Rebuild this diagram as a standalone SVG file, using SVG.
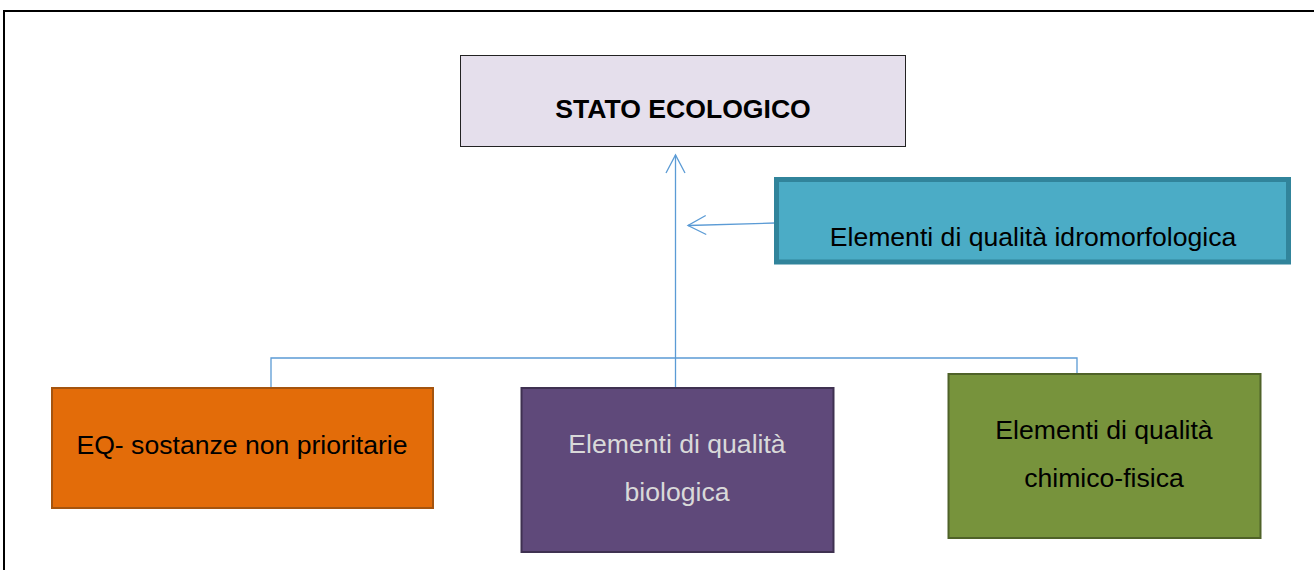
<svg xmlns="http://www.w3.org/2000/svg" width="1314" height="570" viewBox="0 0 1314 570">
<defs>
<style>
.t{font-family:"Liberation Sans",Arial,sans-serif;font-size:26.6px;text-anchor:middle;fill:#000}
.b{font-weight:bold}
.lt{fill:#D9D9D9}
.c{fill:none;stroke:#5B9BD5;stroke-width:1.3}
</style>
<marker id="ah" viewBox="0 0 22 22" refX="19" refY="11" markerWidth="22" markerHeight="22" markerUnits="userSpaceOnUse" orient="auto">
<path d="M1,1.5 L19,11 L1,20.5" fill="none" stroke="#5B9BD5" stroke-width="1.3"/>
</marker>
</defs>
<rect width="1314" height="570" fill="#fff"/>
<path d="M4,570 L4,11 L1314,11" fill="none" stroke="#000" stroke-width="2"/>
<g id="connectors">
<path class="c" d="M675.5,388 L675.5,155" marker-end="url(#ah)"/>
<path class="c" d="M775,223 L688,225.5" marker-end="url(#ah)"/>
<path class="c" d="M271,388 L271,358 L1077,358 L1077,388"/>
</g>
<g id="stato">
<rect x="460.5" y="55.5" width="445" height="91" fill="#E5DFEC" stroke="#222" stroke-width="1"/>
<text class="t b" x="683" y="118">STATO ECOLOGICO</text>
</g>
<g id="idro">
<rect x="776.5" y="179.5" width="512" height="82.5" fill="#4BACC6" stroke="#31849B" stroke-width="5"/>
<text class="t" x="1033" y="246">Elementi di qualità idromorfologica</text>
</g>
<g id="eq">
<rect x="52" y="388" width="381" height="120" fill="#E36C09" stroke="#A5540E" stroke-width="2"/>
<text class="t" x="242" y="454">EQ- sostanze non prioritarie</text>
</g>
<g id="bio">
<rect x="521.5" y="388" width="312" height="164" fill="#5F497A" stroke="#3F3151" stroke-width="2"/>
<text class="t lt" x="677" y="453">Elementi di qualità</text>
<text class="t lt" x="677" y="501">biologica</text>
</g>
<g id="chim">
<rect x="948.5" y="374" width="312" height="164" fill="#77933C" stroke="#4F6228" stroke-width="2"/>
<text class="t" x="1104" y="439">Elementi di qualità</text>
<text class="t" x="1104" y="487">chimico-fisica</text>
</g>
</svg>
